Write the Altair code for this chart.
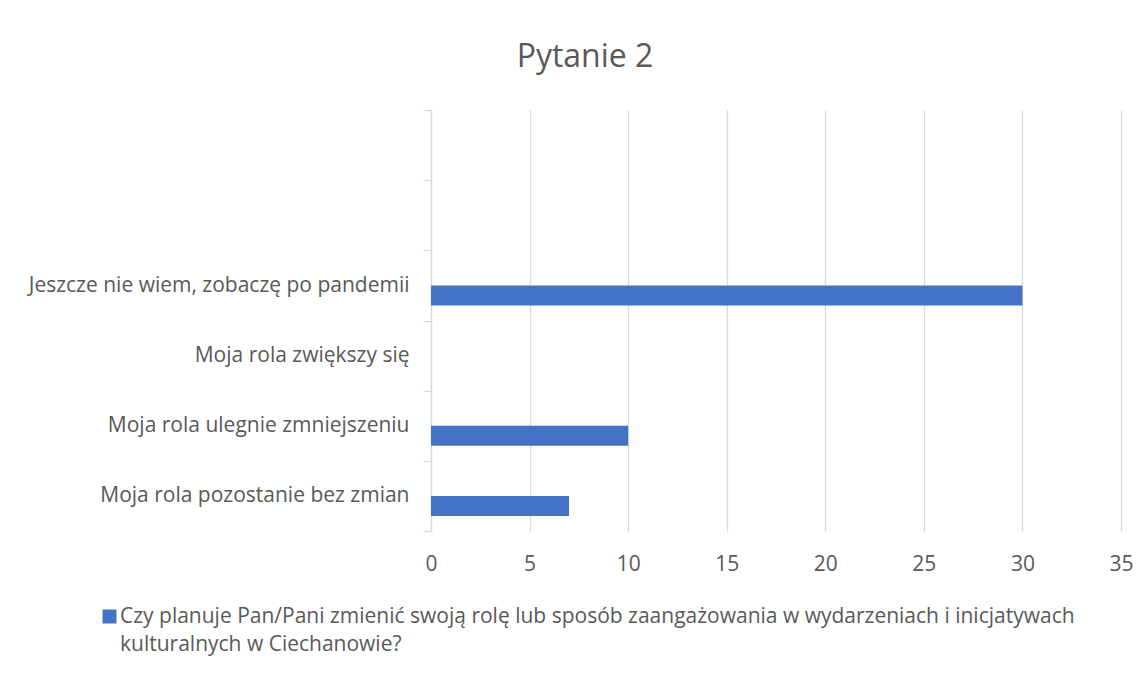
import json
import altair as alt
import pandas as pd

# --- data ---
categories = [
    " ",
    "  ",
    "Jeszcze nie wiem, zobaczę po pandemii",
    "Moja rola zwiększy się",
    "Moja rola ulegnie zmniejszeniu",
    "Moja rola pozostanie bez zmian",
]
values = [None, None, 30, 0, 10, 7]
series_lines = [
    "Czy planuje Pan/Pani zmienić swoją rolę lub sposób zaangażowania w wydarzeniach i inicjatywach",
    "kulturalnych w Ciechanowie?",
]
series_name = " ".join(series_lines)
x_ticks = [0, 5, 10, 15, 20, 25, 30, 35]
chart_title = "Pytanie 2"

df = pd.DataFrame({"kategoria": categories, "wartosc": values, "seria": [series_name] * len(categories)})

TEXT = "#595959"
GRID = "#d9d9d9"
FONT = "Open Sans"

bars = alt.Chart(df).mark_bar(size=20, yOffset=10).encode(
    x=alt.X(
        "wartosc:Q",
        scale=alt.Scale(domain=[0, 35], nice=False, zero=True),
        axis=alt.Axis(
            values=x_ticks, title=None, grid=True, gridColor=GRID, gridWidth=1.3,
            ticks=False, domain=False, labelFontSize=21, labelColor=TEXT,
            labelFont=FONT, labelPadding=22, labelFlush=False,
        ),
    ),
    y=alt.Y(
        "kategoria:N",
        sort=categories,
        scale=alt.Scale(domain=categories, paddingInner=0, paddingOuter=0),
        axis=alt.Axis(
            title=None, tickBand="extent", tickSize=8, tickColor=GRID, tickWidth=1.3,
            domainColor=GRID, domainWidth=1.3, labelFontSize=21, labelColor=TEXT,
            labelFont=FONT, labelPadding=14, labelLimit=500, grid=False,
        ),
    ),
    color=alt.Color(
        "seria:N",
        scale=alt.Scale(range=["#4472C4"]),
        legend=alt.Legend(
            title=None, orient="none", legendX=-332, legendY=496, padding=0,
            symbolType="square", symbolSize=196, symbolStrokeWidth=0,
            labelOffset=0, labelLimit=1100, labelFontSize=21, labelFont=FONT,
            labelColor=TEXT, labelExpr=json.dumps(series_lines, ensure_ascii=False),
        ),
    ),
)

chart = bars.properties(
    width=690,
    height=421,
    autosize=alt.AutoSizeParams(type="none"),
    padding={"left": 423, "top": 102, "right": 19, "bottom": 137},
    title=alt.Title(
        chart_title, fontSize=32, font=FONT, fontWeight="normal", color=TEXT,
        anchor="middle", dx=-191, offset=25,
    ),
    background="white",
).configure(
    style={"guide-label": {"lineHeight": 28}},
).configure_view(stroke=None)

chart.save("out.html", embed_options={"renderer": "svg", "actions": False})
